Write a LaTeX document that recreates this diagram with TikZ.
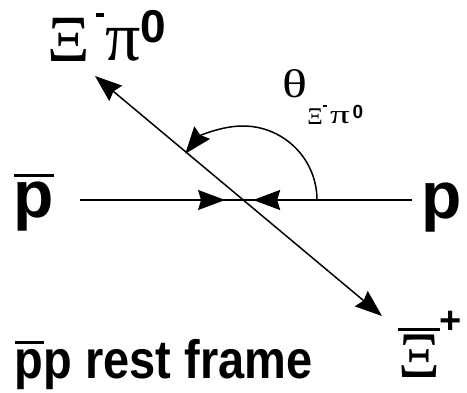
\documentclass[tikz,border=0pt]{standalone}
\usepackage{fontspec}
\setmainfont{Liberation Serif}
\setsansfont{Liberation Sans}
\usetikzlibrary{arrows.meta,decorations.markings}

\newcommand{\fsz}[1]{\fontsize{#1}{#1}\selectfont}
\newcommand{\barred}[3]{\vbox{\hrule height #1\kern #2\hbox{#3}}}

\tikzset{
  bighead/.tip={Stealth[length=27pt,width=20pt,inset=3pt]},
  track/.style={draw=black,line width=1.5pt},
  track_arr/.style={track,postaction={decorate},
    decoration={markings,mark=at position #1 with {\arrow{bighead}}}},
  glyph/.style={inner sep=0pt,outer sep=0pt},
  sans_lbl/.style={glyph,font=\sffamily\bfseries\fsz{#1}},
  grk_lbl/.style={glyph,font=\rmfamily\fsz{#1}},
}

\begin{document}
\begin{tikzpicture}[x=1pt,y=-1pt]
  \useasboundingbox (0,0) rectangle (467,392);

  \coordinate (o) at (243,200);
  \coordinate (lft) at (80,200);
  \coordinate (rgt) at (412,200);
  \coordinate (nw) at (95,76);
  \coordinate (se) at (382,316);
  \coordinate (arcbeg) at (317,200);

  \draw[track_arr=0.89] (lft) -- (o);
  \draw[track_arr=0.94] (rgt) -- (o);
  \draw[track,bighead-bighead] (nw) -- (se);
  \draw[track,-bighead] (arcbeg) arc[start angle=0,end angle=-141.3,radius=74];

  % beam labels
  \node[sans_lbl=66] (pbar) at (34,202.5) {\barred{3.5pt}{5pt}{p}};
  \node[sans_lbl=66] (p) at (441.5,207.5) {p};

  % Xi- pi0
  \node[grk_lbl=66] (xi) at (69,40) {Ξ};
  \node[glyph] (ximinus) at (100,15) {\rule{8pt}{3.5pt}};
  \node[grk_lbl=70] (pi) at (123,45) {π};
  \node[sans_lbl=46] (pizero) at (153,27) {0};

  % angle
  \node[grk_lbl=40] (theta) at (295,84) {\scalebox{1.3}[1]{θ}};
  \node[grk_lbl=24] (thxi) at (315,117) {Ξ};
  \node[glyph] (thminus) at (325,106) {\rule{4pt}{2pt}};
  \node[grk_lbl=26] (thpi) at (340,118) {\scalebox{1.5}[1]{π}};
  \node[sans_lbl=19] (thzero) at (358,112) {0};

  % anti-Xi+
  \node[grk_lbl=65] (xibar) at (419,353) {\barred{3pt}{4pt}{Ξ}};
  \node[sans_lbl=38] (xiplus) at (451,322) {+};

  \node[sans_lbl=54,xscale=.87,transform shape,anchor=base west] (frame)
    at (15,378) {\barred{3pt}{5pt}{p}p rest frame};
\end{tikzpicture}
\end{document}
